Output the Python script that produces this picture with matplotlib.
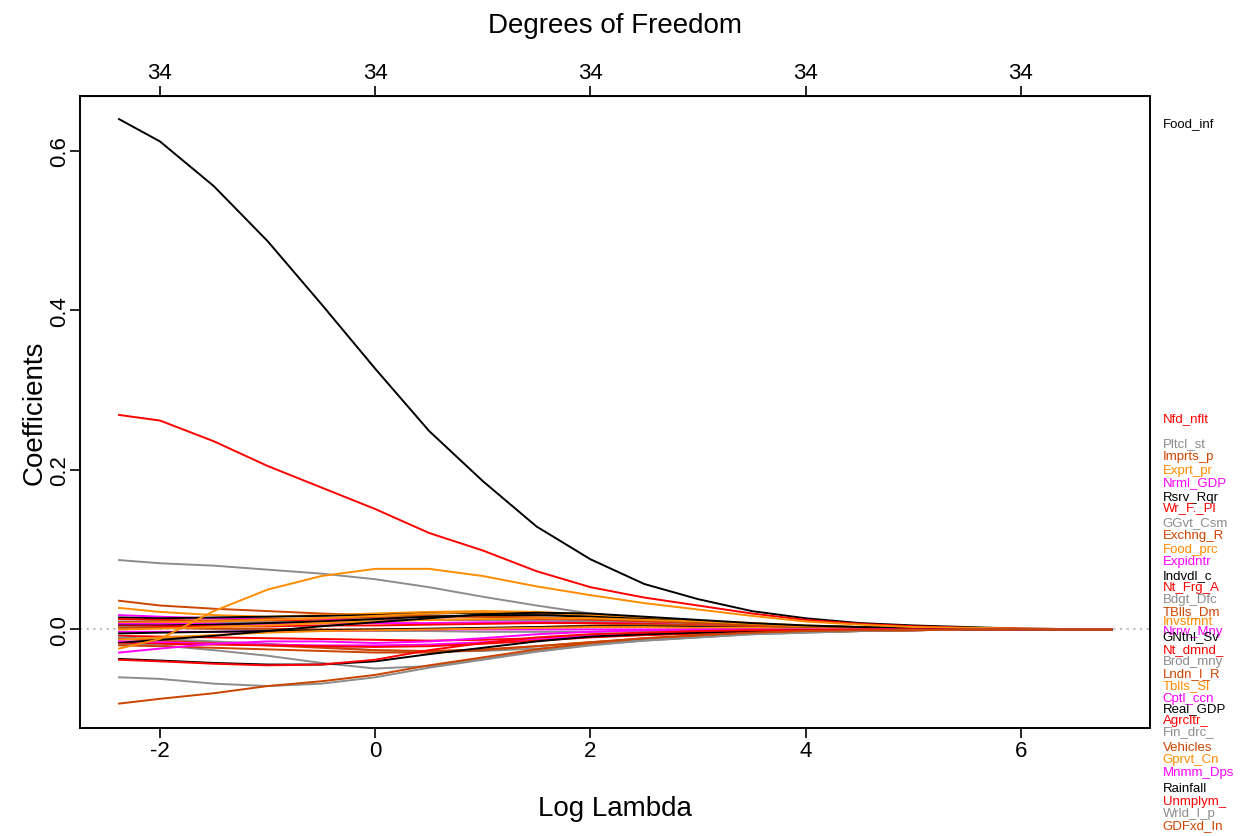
"""Ridge coefficient paths against log lambda, glmnet-style."""

import matplotlib

matplotlib.use("Agg")
import matplotlib.pyplot as plt

plt.rcParams["font.family"] = ["Liberation Sans Narrow", "Liberation Sans", "DejaVu Sans"]
plt.rcParams["axes.unicode_minus"] = False

# log(lambda) grid of the path
log_lambda = [-2.38, -2.0, -1.5, -1.0, -0.5, 0.0, 0.5, 1.0, 1.5, 2.0,
              2.5, 3.0, 3.5, 4.0, 4.5, 5.0, 5.5, 6.0, 6.84]

food_inf = [0.640, 0.612, 0.556, 0.487, 0.408, 0.327, 0.249, 0.186, 0.129, 0.088,
            0.057, 0.038, 0.023, 0.014, 0.008, 0.005, 0.003, 0.001, 0.000]
nfd_nflt = [0.269, 0.262, 0.236, 0.205, 0.178, 0.151, 0.121, 0.099, 0.073, 0.053,
            0.040, 0.030, 0.020, 0.012, 0.007, 0.004, 0.002, 0.001, 0.000]
pltcl_st = [0.087, 0.083, 0.080, 0.075, 0.070, 0.063, 0.053, 0.041, 0.030, 0.020,
            0.013, 0.008, 0.005, 0.003, 0.002, 0.001, 0.000, 0.000, 0.000]
imprts_p = [0.036, 0.030, 0.026, 0.023, 0.020, 0.018, 0.017, 0.016, 0.015, 0.013,
            0.010, 0.008, 0.006, 0.004, 0.002, 0.001, 0.001, 0.000, 0.000]
exprt_pr = [0.027, 0.022, 0.018, 0.016, 0.018, 0.020, 0.022, 0.023, 0.022, 0.019,
            0.015, 0.011, 0.008, 0.005, 0.003, 0.002, 0.001, 0.000, 0.000]
nrml_gdp = [0.018, 0.016, 0.014, 0.013, 0.013, 0.012, 0.012, 0.012, 0.011, 0.010,
            0.008, 0.006, 0.004, 0.003, 0.002, 0.001, 0.001, 0.000, 0.000]
rsrv_rqr = [0.015, 0.014, 0.015, 0.016, 0.017, 0.018, 0.020, 0.021, 0.020, 0.018,
            0.014, 0.010, 0.007, 0.004, 0.003, 0.002, 0.001, 0.000, 0.000]
wr_f_pl = [0.013, 0.012, 0.011, 0.011, 0.011, 0.011, 0.012, 0.012, 0.012, 0.011,
           0.009, 0.007, 0.005, 0.003, 0.002, 0.001, 0.001, 0.000, 0.000]
ggvt_csm = [0.010, 0.010, 0.009, 0.009, 0.010, 0.011, 0.012, 0.012, 0.011, 0.010,
            0.008, 0.006, 0.004, 0.003, 0.002, 0.001, 0.000, 0.000, 0.000]
exchng_r = [0.009, 0.010, 0.011, 0.013, 0.014, 0.015, 0.016, 0.016, 0.015, 0.013,
            0.011, 0.008, 0.006, 0.004, 0.002, 0.001, 0.001, 0.000, 0.000]
food_prc = [0.008, 0.009, 0.010, 0.012, 0.014, 0.017, 0.020, 0.022, 0.021, 0.018,
            0.014, 0.010, 0.007, 0.004, 0.003, 0.002, 0.001, 0.000, 0.000]
expidntr = [0.007, 0.007, 0.007, 0.007, 0.008, 0.008, 0.008, 0.009, 0.009, 0.008,
            0.007, 0.005, 0.004, 0.002, 0.001, 0.001, 0.000, 0.000, 0.000]
indvdl_c = [0.005, 0.005, 0.006, 0.008, 0.010, 0.013, 0.016, 0.018, 0.018, 0.016,
            0.013, 0.010, 0.007, 0.004, 0.003, 0.002, 0.001, 0.000, 0.000]
nt_frg_a = [0.004, 0.004, 0.004, 0.004, 0.005, 0.005, 0.006, 0.007, 0.008, 0.008,
            0.007, 0.005, 0.004, 0.002, 0.001, 0.001, 0.000, 0.000, 0.000]
bdgt_dfc = [0.003, 0.002, 0.001, 0.000, -0.001, -0.002, -0.002, -0.003, -0.003, -0.003,
            -0.002, -0.002, -0.001, -0.001, -0.001, 0.000, 0.000, 0.000, 0.000]
tblls_dm = [0.002, 0.002, 0.001, 0.001, 0.000, 0.000, 0.000, 0.001, 0.003, 0.005,
            0.006, 0.005, 0.004, 0.003, 0.002, 0.001, 0.000, 0.000, 0.000]
invstmnt = [0.000, 0.001, 0.003, 0.005, 0.008, 0.010, 0.012, 0.013, 0.014, 0.014,
            0.012, 0.010, 0.007, 0.004, 0.003, 0.002, 0.001, 0.000, 0.000]
nrrw_mny = [-0.003, -0.003, -0.003, -0.002, -0.002, -0.001, 0.000, 0.000, 0.000, 0.000,
            0.000, 0.000, 0.000, 0.000, 0.000, 0.000, 0.000, 0.000, 0.000]
gntnl_sv = [-0.005, -0.004, -0.003, -0.002, -0.001, 0.000, 0.001, 0.002, 0.003, 0.004,
            0.004, 0.003, 0.002, 0.001, 0.001, 0.000, 0.000, 0.000, 0.000]
nt_dmnd = [-0.008, -0.009, -0.010, -0.011, -0.012, -0.013, -0.014, -0.013, -0.011, -0.009,
           -0.007, -0.005, -0.003, -0.002, -0.001, -0.001, 0.000, 0.000, 0.000]
brod_mny = [-0.010, -0.012, -0.015, -0.018, -0.022, -0.026, -0.028, -0.027, -0.024, -0.019,
            -0.014, -0.010, -0.006, -0.004, -0.002, -0.001, 0.000, 0.000, 0.000]
lndn_i_r = [-0.012, -0.014, -0.017, -0.020, -0.023, -0.026, -0.027, -0.025, -0.021, -0.016,
            -0.012, -0.008, -0.005, -0.003, -0.002, -0.001, 0.000, 0.000, 0.000]
tblls_sl = [-0.013, -0.010, -0.007, -0.004, -0.002, -0.001, 0.000, 0.001, 0.002, 0.003,
            0.003, 0.002, 0.002, 0.001, 0.001, 0.000, 0.000, 0.000, 0.000]
cptl_ccn = [-0.015, -0.016, -0.018, -0.019, -0.020, -0.020, -0.019, -0.016, -0.012, -0.008,
            -0.005, -0.003, -0.002, -0.001, -0.001, 0.000, 0.000, 0.000, 0.000]
real_gdp = [-0.017, -0.013, -0.008, -0.002, 0.004, 0.009, 0.014, 0.019, 0.021, 0.020,
            0.016, 0.012, 0.008, 0.005, 0.003, 0.002, 0.001, 0.000, 0.000]
agrcltr = [-0.018, -0.018, -0.019, -0.020, -0.021, -0.022, -0.021, -0.018, -0.014, -0.010,
           -0.007, -0.005, -0.003, -0.002, -0.001, 0.000, 0.000, 0.000, 0.000]
fin_drc = [-0.019, -0.020, -0.026, -0.033, -0.042, -0.049, -0.046, -0.037, -0.027, -0.019,
           -0.013, -0.008, -0.005, -0.003, -0.002, -0.001, 0.000, 0.000, 0.000]
vehicles = [-0.020, -0.021, -0.023, -0.025, -0.027, -0.029, -0.029, -0.026, -0.021, -0.016,
            -0.011, -0.008, -0.005, -0.003, -0.002, -0.001, 0.000, 0.000, 0.000]
gprvt_cn = [-0.024, -0.012, 0.023, 0.050, 0.067, 0.076, 0.076, 0.067, 0.054, 0.043,
            0.033, 0.025, 0.017, 0.010, 0.006, 0.003, 0.002, 0.001, 0.000]
mnmm_dps = [-0.029, -0.024, -0.018, -0.015, -0.015, -0.017, -0.015, -0.011, -0.006, -0.003,
            -0.001, 0.000, 0.000, 0.000, 0.000, 0.000, 0.000, 0.000, 0.000]
rainfall = [-0.037, -0.039, -0.042, -0.044, -0.044, -0.040, -0.031, -0.023, -0.015, -0.009,
            -0.006, -0.004, -0.002, -0.001, -0.001, 0.000, 0.000, 0.000, 0.000]
unmplym = [-0.038, -0.040, -0.043, -0.045, -0.044, -0.038, -0.026, -0.017, -0.010, -0.006,
           -0.004, -0.002, -0.001, -0.001, 0.000, 0.000, 0.000, 0.000, 0.000]
wrld_i_p = [-0.060, -0.062, -0.068, -0.071, -0.068, -0.060, -0.048, -0.038, -0.028, -0.020,
            -0.014, -0.010, -0.006, -0.004, -0.002, -0.001, 0.000, 0.000, 0.000]
gdfxd_in = [-0.093, -0.087, -0.080, -0.071, -0.065, -0.057, -0.045, -0.035, -0.025, -0.017,
            -0.011, -0.007, -0.004, -0.002, -0.001, -0.001, 0.000, 0.000, 0.000]

var_names = ["Food_inf", "Nfd_nflt", "Pltcl_st", "Imprts_p", "Exprt_pr", "Nrml_GDP",
             "Rsrv_Rqr", "Wr_F._Pl", "GGvt_Csm", "Exchng_R", "Food_prc", "Expidntr",
             "Indvdl_c", "Nt_Frg_A", "Bdgt_Dfc", "TBlls_Dm", "Invstmnt", "Nrrw_Mny",
             "GNtnl_Sv", "Nt_dmnd_", "Brod_mny", "Lndn_I_R", "Tblls_Sl", "Cptl_ccn",
             "Real_GDP", "Agrcltr_", "Fin_drc_", "Vehicles", "Gprvt_Cn", "Mnmm_Dps",
             "Rainfall", "Unmplym_", "Wrld_I_p", "GDFxd_In"]

paths = [food_inf, nfd_nflt, pltcl_st, imprts_p, exprt_pr, nrml_gdp, rsrv_rqr, wr_f_pl,
         ggvt_csm, exchng_r, food_prc, expidntr, indvdl_c, nt_frg_a, bdgt_dfc, tblls_dm,
         invstmnt, nrrw_mny, gntnl_sv, nt_dmnd, brod_mny, lndn_i_r, tblls_sl, cptl_ccn,
         real_gdp, agrcltr, fin_drc, vehicles, gprvt_cn, mnmm_dps, rainfall, unmplym,
         wrld_i_p, gdfxd_in]

df_ticks = [-2, 0, 2, 4, 6]
df_labels = ["34", "34", "34", "34", "34"]

# spread-out label heights on the right (data units)
label_y = [0.635, 0.265, 0.234, 0.218, 0.200, 0.185, 0.166, 0.154, 0.135, 0.119,
           0.101, 0.086, 0.068, 0.053, 0.038, 0.023, 0.011, -0.002, -0.008, -0.024,
           -0.040, -0.055, -0.070, -0.086, -0.098, -0.114, -0.127, -0.147, -0.162,
           -0.179, -0.199, -0.215, -0.230, -0.245]

palette = ["black", "#FF0000", "#8C8C8C", "#CC4400", "#FF8C00", "#FF00FF"]

fig = plt.figure(figsize=(12.45, 8.37), dpi=100)
ax = fig.add_axes([80 / 1245, 1 - 729 / 837, 1070 / 1245, 632 / 837])

ax.axhline(0, color="#BEBEBE", linewidth=1.5, linestyle=(0, (1, 2.2)), zorder=1)
for i, values in enumerate(paths):
    ax.plot(log_lambda, values, color=palette[i % 6], linewidth=1.4, zorder=2)

ax.set_xlim(-2.743, 7.199)
ax.set_ylim(-0.1236, 0.669)
ax.set_xticks([-2, 0, 2, 4, 6])
ax.set_yticks([0.0, 0.2, 0.4, 0.6])
ax.set_yticklabels(["0.0", "0.2", "0.4", "0.6"], rotation=90, va="center")
ax.tick_params(axis="x", length=7, width=1.2, labelsize=16, pad=2)
ax.tick_params(axis="y", length=7, width=1.2, labelsize=16, pad=0)

for spine in ax.spines.values():
    spine.set_linewidth(1.4)

top = ax.secondary_xaxis("top")
top.set_xticks(df_ticks, labels=df_labels)
top.tick_params(length=7, width=1.2, labelsize=16, pad=2)
top.set_xlabel("Degrees of Freedom", fontsize=20, labelpad=22)

ax.set_xlabel("Log Lambda", fontsize=20, labelpad=24)
ax.set_ylabel("Coefficients", fontsize=20, labelpad=1)

for i, name in enumerate(var_names):
    ax.text(1.012, label_y[i], name, transform=ax.get_yaxis_transform(),
            color=palette[i % 6], fontsize=9.5, va="center", ha="left", clip_on=False)

fig.savefig("out.png", dpi=100)
plt.close(fig)
